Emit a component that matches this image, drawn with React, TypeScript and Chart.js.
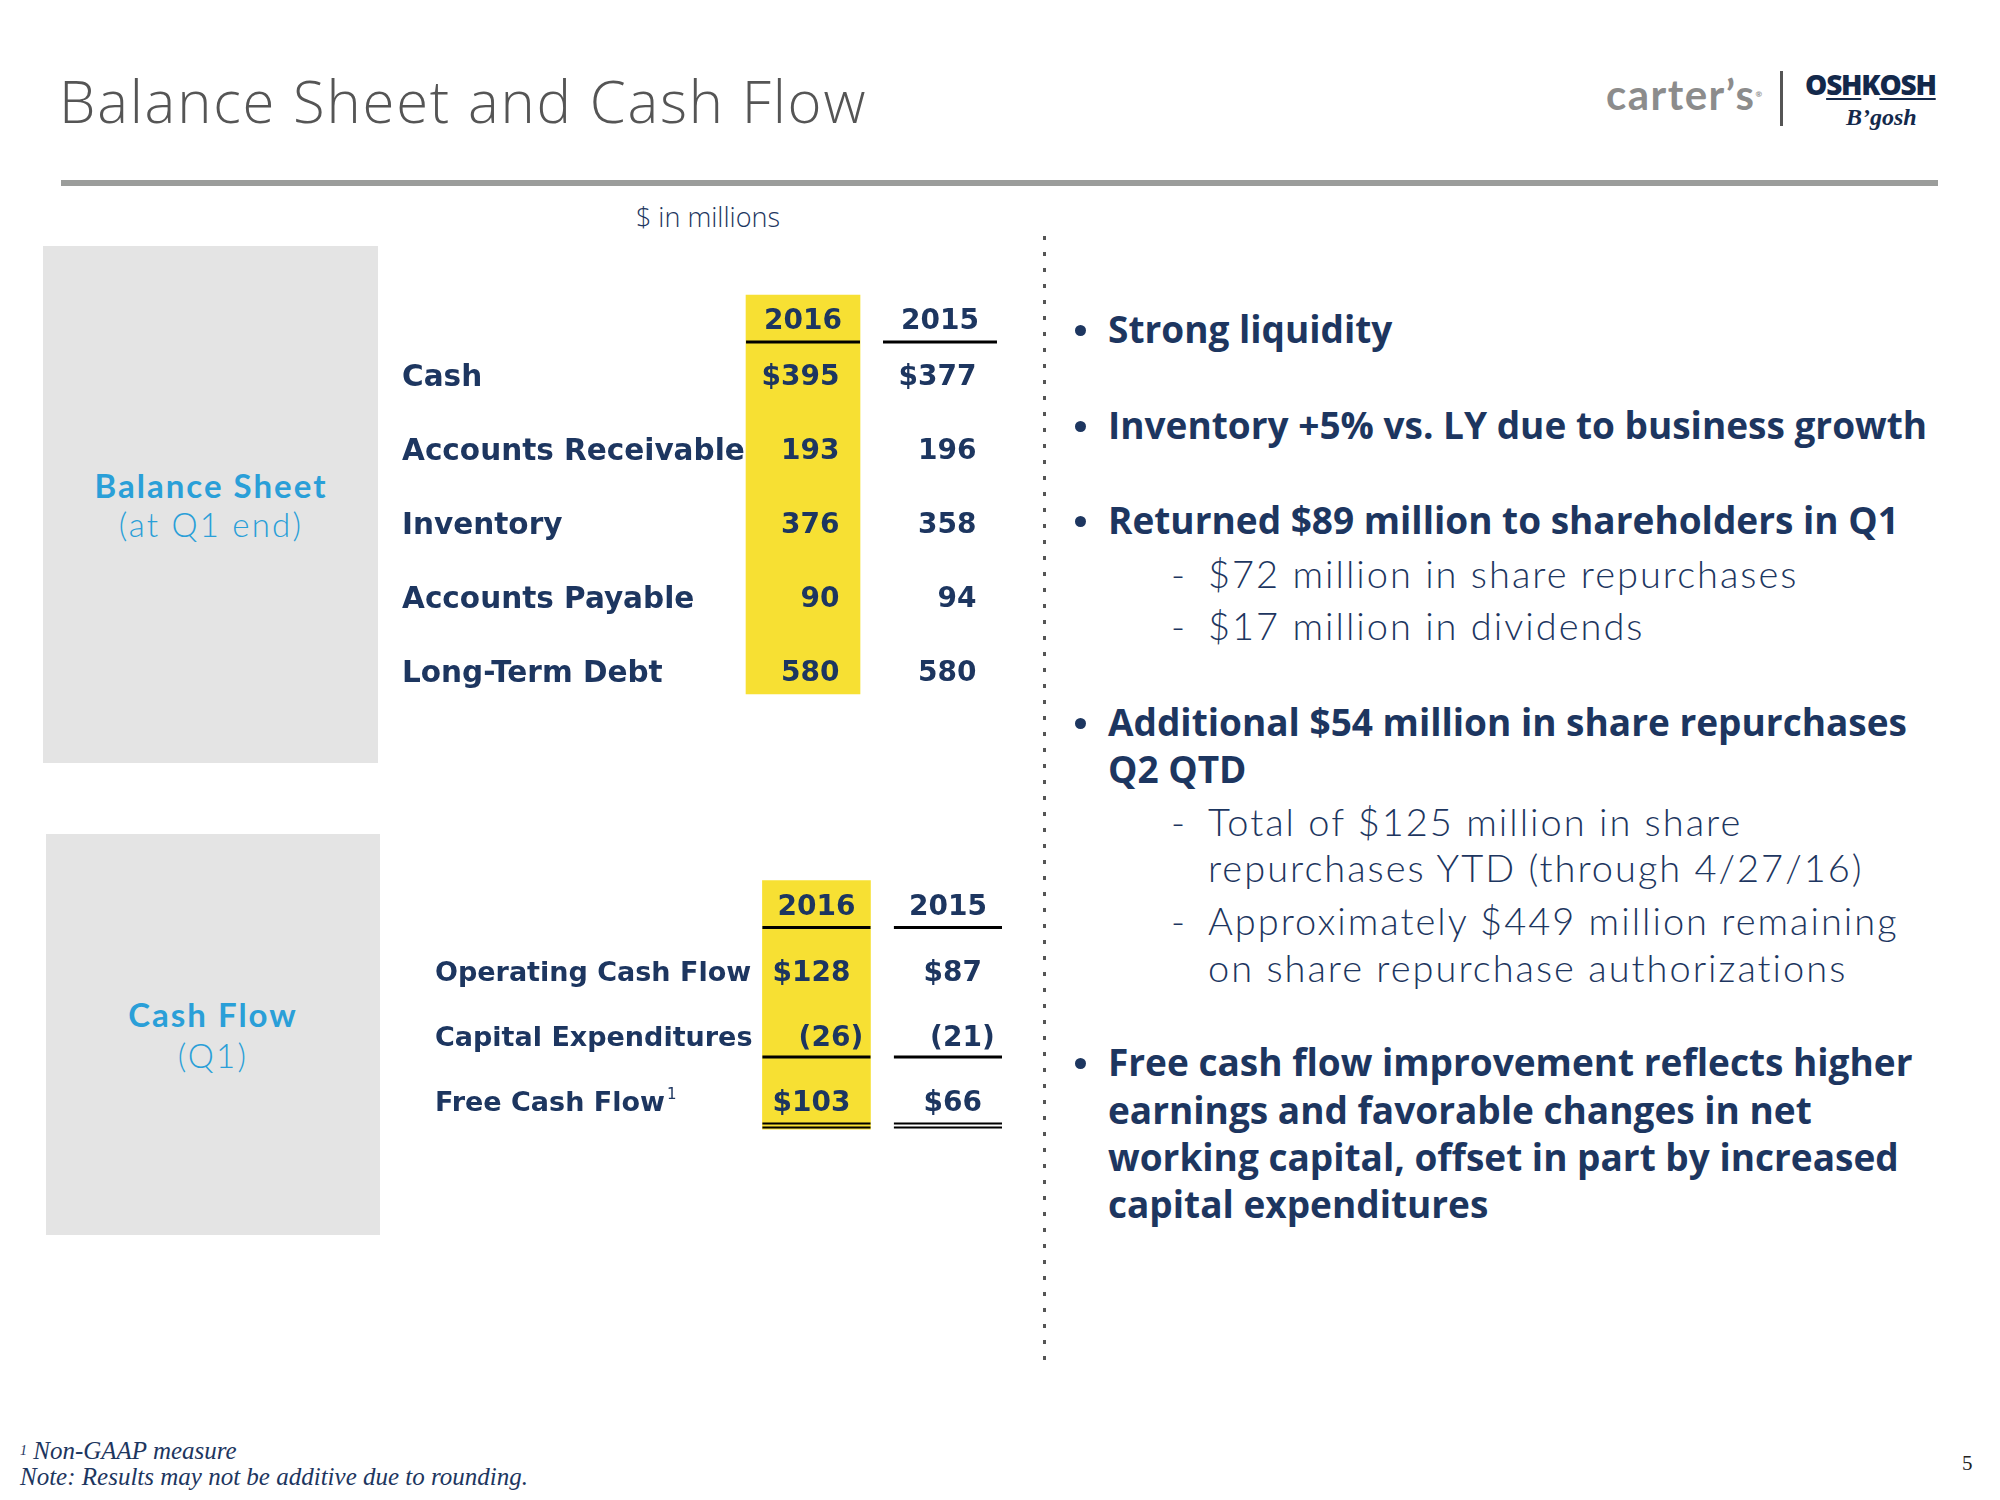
import React, { useEffect, useRef } from "react";
import { Chart, registerables } from "chart.js";

Chart.register(...registerables);

const NAVY = "#1d3660";
const BLUE = "#2a9fd8";
const YELLOW = "#f7e033";
const BOX_GRAY = "#e4e4e4";

// ---------- Balance sheet (at Q1 end), $ in millions ----------
const bsYears = ["2016", "2015"];
const bsRows = ["Cash", "Accounts Receivable", "Inventory", "Accounts Payable", "Long-Term Debt"];
const bsNotes = ["", "", "", "", ""];
const bs2016 = [395, 193, 376, 90, 580];
const bs2015 = [377, 196, 358, 94, 580];
const bsDollarRows = [true, false, false, false, false];

// ---------- Cash flow (Q1), $ in millions ----------
const cfYears = ["2016", "2015"];
const cfRows = ["Operating Cash Flow", "Capital Expenditures", "Free Cash Flow"];
const cfNotes = ["", "", "1"];
const cf2016 = [128, -26, 103];
const cf2015 = [87, -21, 66];
const cfDollarRows = [true, false, true];

// ---------- Commentary ----------
const bulletLines = [
  { lvl: 1, first: true, text: "Strong liquidity", y: 330 },
  { lvl: 1, first: true, text: "Inventory +5% vs. LY due to business growth", y: 426 },
  { lvl: 1, first: true, text: "Returned $89 million to shareholders in Q1", y: 521 },
  { lvl: 2, first: true, text: "$72 million in share repurchases", y: 574 },
  { lvl: 2, first: true, text: "$17 million in dividends", y: 626 },
  { lvl: 1, first: true, text: "Additional $54 million in share repurchases", y: 723 },
  { lvl: 1, first: false, text: "Q2 QTD", y: 770 },
  { lvl: 2, first: true, text: "Total of $125 million in share", y: 822 },
  { lvl: 2, first: false, text: "repurchases YTD (through 4/27/16)", y: 868 },
  { lvl: 2, first: true, text: "Approximately $449 million remaining", y: 921 },
  { lvl: 2, first: false, text: "on share repurchase authorizations", y: 968 },
  { lvl: 1, first: true, text: "Free cash flow improvement reflects higher", y: 1063 },
  { lvl: 1, first: false, text: "earnings and favorable changes in net", y: 1111 },
  { lvl: 1, first: false, text: "working capital, offset in part by increased", y: 1158 },
  { lvl: 1, first: false, text: "capital expenditures", y: 1205 },
];

type Rule = { y: number; w: number };
type TableSpec = {
  years: string[];
  rows: string[];
  notes: string[];
  cols: number[][];
  dollar: boolean[];
  left: number; top: number; width: number; height: number;
  xMin: number; xMax: number; yMin: number; yMax: number;
  hlTop: number; hlBottom: number; hlPx: number;
  halfCol: number; headerY: number; rules: Rule[];
  labelX: number; valueRight: number;
  labelSize: number; valueSize: number;
};

const bsSpec: TableSpec = {
  years: bsYears, rows: bsRows, notes: bsNotes, cols: [bs2016, bs2015], dollar: bsDollarRows,
  left: 390, top: 280, width: 630, height: 430,
  xMin: -3.015, xMax: 1.584, yMin: -1.284, yMax: 4.527,
  hlTop: -1.081, hlBottom: 4.311, hlPx: 114,
  halfCol: 0.416, headerY: -0.764, rules: [{ y: -0.446, w: 3 }],
  labelX: -2.927, valueRight: 0.266,
  labelSize: 29.5, valueSize: 28,
};

const cfSpec: TableSpec = {
  years: cfYears, rows: cfRows, notes: cfNotes, cols: [cf2016, cf2015], dollar: cfDollarRows,
  left: 400, top: 860, width: 640, height: 300,
  xMin: -3.167, xMax: 1.7, yMin: -1.708, yMax: 2.907,
  hlTop: -1.392, hlBottom: 2.431, hlPx: 108,
  halfCol: 0.411, headerY: -1.015,
  rules: [{ y: -0.669, w: 3 }, { y: 1.323, w: 3 }, { y: 2.346, w: 2 }, { y: 2.408, w: 2 }],
  labelX: -2.901, valueRight: 0.258,
  labelSize: 27, valueSize: 28,
};

const TABLE_FONT = "'DejaVu Sans'";

function makeTablePlugin(spec: TableSpec) {
  return {
    id: "tableText",
    afterDatasetsDraw(chart: any) {
      const ctx: CanvasRenderingContext2D = chart.ctx;
      const xs = chart.scales.x;
      const ys = chart.scales.y;
      const px = (v: number) => xs.getPixelForValue(v);
      const py = (v: number) => ys.getPixelForValue(v);
      const capL = 0.729 * spec.labelSize;
      const capV = 0.729 * spec.valueSize;
      ctx.save();
      ctx.fillStyle = NAVY;
      ctx.textBaseline = "alphabetic";

      // column headers
      ctx.font = `bold ${spec.valueSize}px ${TABLE_FONT}`;
      ctx.textAlign = "center";
      spec.years.forEach((yr, c) => ctx.fillText(yr, px(c), py(spec.headerY) + capV / 2));

      // rules
      ctx.strokeStyle = "#000";
      spec.rules.forEach((r) => {
        ctx.lineWidth = r.w;
        spec.years.forEach((_, c) => {
          ctx.beginPath();
          ctx.moveTo(px(c - spec.halfCol), py(r.y));
          ctx.lineTo(px(c + spec.halfCol), py(r.y));
          ctx.stroke();
        });
      });

      // row labels
      ctx.textAlign = "left";
      spec.rows.forEach((label, i) => {
        ctx.font = `bold ${spec.labelSize}px ${TABLE_FONT}`;
        const bx = px(spec.labelX);
        const by = py(i) + capL / 2;
        ctx.fillText(label, bx, by);
        const note = spec.notes[i];
        if (note) {
          const w = ctx.measureText(label).width;
          ctx.font = `${Math.round(spec.labelSize * 0.55)}px ${TABLE_FONT}`;
          ctx.fillText(note, bx + w + 2, by - capL * 0.6);
        }
      });

      // values
      ctx.font = `bold ${spec.valueSize}px ${TABLE_FONT}`;
      ctx.textAlign = "right";
      const hang = ctx.measureText(")").width;
      spec.cols.forEach((vals, c) =>
        vals.forEach((v, i) => {
          const txt = v < 0 ? `(${Math.abs(v)})` : spec.dollar[i] ? `$${v}` : `${v}`;
          ctx.fillText(txt, px(c + spec.valueRight) + (v < 0 ? hang : 0), py(i) + capV / 2);
        })
      );
      ctx.restore();
    },
  };
}

function TableChart({ spec }: { spec: TableSpec }) {
  const ref = useRef<HTMLCanvasElement>(null);
  useEffect(() => {
    if (!ref.current) return;
    const chart = new Chart(ref.current, {
      type: "bar",
      data: {
        datasets: [
          {
            data: [{ x: 0, y: [spec.hlTop, spec.hlBottom] }] as any,
            backgroundColor: YELLOW,
            borderWidth: 0,
            barThickness: spec.hlPx,
          },
        ],
      },
      options: {
        animation: false,
        responsive: false,
        maintainAspectRatio: false,
        events: [],
        layout: { padding: 0 },
        plugins: { legend: { display: false }, tooltip: { enabled: false } },
        scales: {
          x: { type: "linear", min: spec.xMin, max: spec.xMax, display: false, offset: false },
          y: { type: "linear", min: spec.yMin, max: spec.yMax, reverse: true, display: false },
        },
      } as any,
      plugins: [makeTablePlugin(spec) as any],
    });
    return () => chart.destroy();
  }, [spec]);
  return (
    <canvas
      ref={ref}
      width={spec.width}
      height={spec.height}
      style={{ position: "absolute", left: spec.left, top: spec.top, width: spec.width, height: spec.height }}
    />
  );
}

// Text positioned by its cap-height centre.
// Open Sans: ascent 1.069, content 1.362, cap 0.714.  Lato: ascent 0.987, content 1.2, cap 0.7165.
const METRICS: any = {
  os: { fam: "'Open Sans', sans-serif", asc: 1.069, content: 1.362, cap: 0.714 },
  lato: { fam: "Lato, sans-serif", asc: 0.987, content: 1.2, cap: 0.7165 },
};

function Txt({
  x, cy, fs, w = 400, color = NAVY, children, center = false, width = 0, ls = 0, font = "os",
}: {
  x: number; cy: number; fs: number; w?: number; color?: string; children: any;
  center?: boolean; width?: number; ls?: number; font?: string;
}) {
  const m = METRICS[font];
  const L = fs;
  const top = cy - ((L - m.content * fs) / 2 + (m.asc - m.cap / 2) * fs);
  const style: any = {
    position: "absolute",
    top,
    fontFamily: m.fam,
    fontSize: fs,
    fontWeight: w,
    lineHeight: `${L}px`,
    letterSpacing: ls,
    color,
    whiteSpace: "nowrap",
  };
  if (center) {
    style.left = x - width / 2;
    style.width = width;
    style.textAlign = "center";
  } else {
    style.left = x;
  }
  return <div style={style}>{children}</div>;
}

export default function App() {
  return (
    <div
      style={{
        position: "absolute",
        left: 0,
        top: 0,
        width: 2000,
        height: 1500,
        background: "#fff",
        overflow: "hidden",
      }}
    >
      {/* Title */}
      <Txt x={59} cy={103} fs={58} w={300} color="#555555" ls={1.8}>Balance Sheet and Cash Flow</Txt>

      {/* Logo */}
      <div
        style={{
          position: "absolute", left: 1606, top: 110 - 0.987 * 42, fontFamily: "Lato, sans-serif",
          fontWeight: 700, fontSize: 42, lineHeight: `${1.2 * 42}px`, color: "#8c8c8c", letterSpacing: 1.5,
          whiteSpace: "nowrap",
        }}
      >
        carter’s<span style={{ fontSize: 8, verticalAlign: "top" }}>®</span>
      </div>
      <div style={{ position: "absolute", left: 1780, top: 71, width: 3, height: 55, background: "#555" }} />
      <div
        style={{
          position: "absolute", left: 1805, top: 95 - 1.069 * 28, fontFamily: "'Open Sans', sans-serif",
          fontWeight: 800, fontSize: 28, lineHeight: `${1.362 * 28}px`, color: "#13294b", letterSpacing: -1.2,
          whiteSpace: "nowrap",
        }}
      >
        O
        <span style={{ textDecoration: "underline", textDecorationThickness: 2, textUnderlineOffset: 3 }}>SH</span>
        K
        <span style={{ textDecoration: "underline", textDecorationThickness: 2, textUnderlineOffset: 3 }}>OSH</span>
      </div>
      <div
        style={{
          position: "absolute", left: 1846, top: 125 - 0.891 * 24, fontFamily: "'Liberation Serif', serif",
          fontStyle: "italic", fontWeight: 700, fontSize: 24, lineHeight: `${1.107 * 24}px`, color: "#13294b",
          whiteSpace: "nowrap",
        }}
      >
        B’gosh
      </div>

      {/* Rule under title */}
      <div style={{ position: "absolute", left: 61, top: 180, width: 1877, height: 6, background: "#9b9d9b" }} />

      <Txt x={708} cy={217} fs={27} w={300} center width={300}>$ in millions</Txt>

      {/* Section boxes */}
      <div style={{ position: "absolute", left: 43, top: 246, width: 335, height: 517, background: BOX_GRAY }} />
      <div style={{ position: "absolute", left: 46, top: 834, width: 334, height: 401, background: BOX_GRAY }} />
      <Txt x={211} cy={486} fs={33} w={700} color={BLUE} center width={330} font="lato" ls={2}>Balance Sheet</Txt>
      <Txt x={211} cy={525} fs={33} w={300} color={BLUE} center width={330} font="lato" ls={2.2}>(at Q1 end)</Txt>
      <Txt x={213} cy={1015} fs={33} w={700} color={BLUE} center width={330} font="lato" ls={2}>Cash Flow</Txt>
      <Txt x={213} cy={1056} fs={33} w={300} color={BLUE} center width={330} font="lato" ls={2.2}>(Q1)</Txt>

      {/* Tables */}
      <TableChart spec={bsSpec} />
      <TableChart spec={cfSpec} />

      {/* Dotted divider */}
      <div
        style={{
          position: "absolute", left: 1043, top: 236, width: 3, height: 1135,
          background: "repeating-linear-gradient(to bottom, #555 0px, #555 4px, transparent 4px, transparent 16px)",
        }}
      />

      {/* Bullets */}
      {bulletLines.map((b, i) => {
        if (b.lvl === 1) {
          return (
            <React.Fragment key={i}>
              {b.first && (
                <div
                  style={{
                    position: "absolute", left: 1075, top: b.y - 5, width: 11, height: 11,
                    borderRadius: "50%", background: NAVY,
                  }}
                />
              )}
              <Txt x={1108} cy={b.y} fs={37} w={700}>{b.text}</Txt>
            </React.Fragment>
          );
        }
        return (
          <React.Fragment key={i}>
            {b.first && <Txt x={1171} cy={b.y} fs={38} w={300} font="lato">-</Txt>}
            <Txt x={1208} cy={b.y} fs={38} w={300} font="lato" ls={2.0}>{b.text}</Txt>
          </React.Fragment>
        );
      })}

      {/* Footnotes */}
      <div
        style={{
          position: "absolute", left: 20, top: 1460 - 0.891 * 25, fontFamily: "'Liberation Serif', serif",
          fontStyle: "italic", fontSize: 25, lineHeight: `${1.0 * 25}px`, color: NAVY, whiteSpace: "nowrap",
        }}
      >
        <span style={{ fontSize: 14, verticalAlign: "top" }}>1</span> Non-GAAP measure
      </div>
      <div
        style={{
          position: "absolute", left: 20, top: 1486 - 0.891 * 25, fontFamily: "'Liberation Serif', serif",
          fontStyle: "italic", fontSize: 25, lineHeight: `${1.0 * 25}px`, color: NAVY, whiteSpace: "nowrap",
        }}
      >
        Note: Results may not be additive due to rounding.
      </div>
      <div
        style={{
          position: "absolute", left: 1962, top: 1471 - 0.891 * 21, fontFamily: "'Liberation Serif', serif",
          fontSize: 21, lineHeight: `${1.107 * 21}px`, color: "#222", whiteSpace: "nowrap",
        }}
      >
        5
      </div>
    </div>
  );
}
